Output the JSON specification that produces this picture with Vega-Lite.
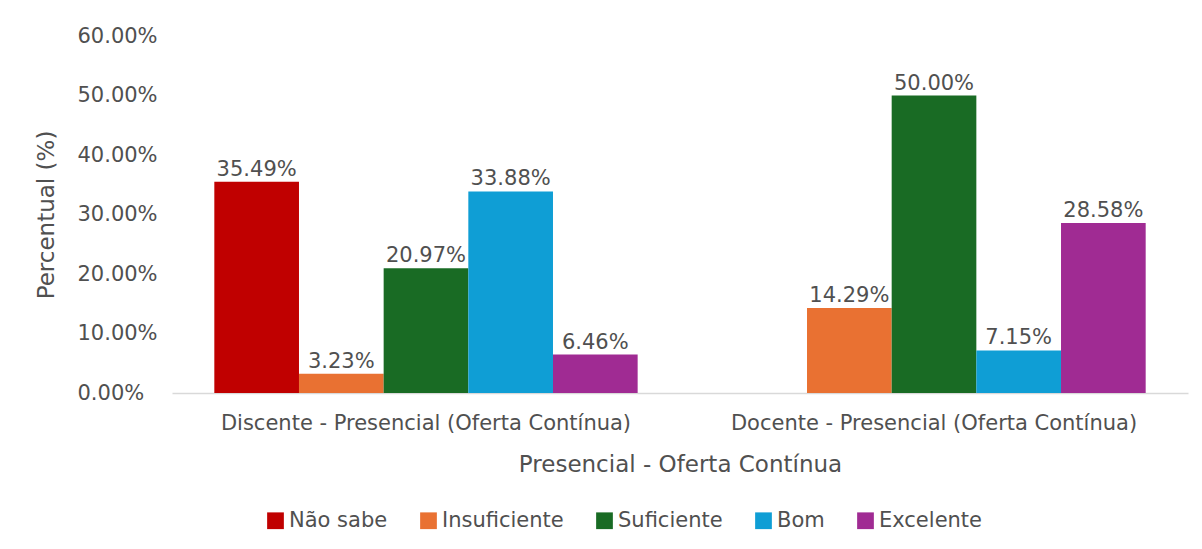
{
  "$schema": "https://vega.github.io/schema/vega-lite/v6.json",
  "autosize": "none",
  "width": 1016,
  "height": 357,
  "padding": {"left": 172, "top": 36, "right": 14, "bottom": 156},
  "background": "white",
  "config": {
    "font": "DejaVu Sans",
    "view": {"stroke": null},
    "text": {"font": "DejaVu Sans"}
  },
  "data": {
    "values": [
      {"grupo": "Discente - Presencial (Oferta Contínua)", "avaliacao": "Não sabe", "valor": 0.3549},
      {"grupo": "Discente - Presencial (Oferta Contínua)", "avaliacao": "Insuficiente", "valor": 0.0323},
      {"grupo": "Discente - Presencial (Oferta Contínua)", "avaliacao": "Suficiente", "valor": 0.2097},
      {"grupo": "Discente - Presencial (Oferta Contínua)", "avaliacao": "Bom", "valor": 0.3388},
      {"grupo": "Discente - Presencial (Oferta Contínua)", "avaliacao": "Excelente", "valor": 0.0646},
      {"grupo": "Docente - Presencial (Oferta Contínua)", "avaliacao": "Insuficiente", "valor": 0.1429},
      {"grupo": "Docente - Presencial (Oferta Contínua)", "avaliacao": "Suficiente", "valor": 0.5},
      {"grupo": "Docente - Presencial (Oferta Contínua)", "avaliacao": "Bom", "valor": 0.0715},
      {"grupo": "Docente - Presencial (Oferta Contínua)", "avaliacao": "Excelente", "valor": 0.2858}
    ]
  },
  "encoding": {
    "x": {
      "field": "grupo",
      "type": "nominal",
      "sort": null,
      "scale": {"paddingInner": 0.1667, "paddingOuter": 0.0833},
      "axis": {
        "title": "Presencial - Oferta Contínua",
        "labelAngle": 0,
        "labelFontSize": 21,
        "labelColor": "#505050",
        "labelPadding": 19,
        "labelLimit": 600,
        "ticks": false,
        "domainColor": "#d9d9d9",
        "domainWidth": 1.5,
        "titleFontSize": 23,
        "titleFontWeight": "normal",
        "titleColor": "#505050",
        "titlePadding": 20
      }
    },
    "xOffset": {
      "field": "avaliacao",
      "type": "nominal",
      "scale": {"domain": ["Não sabe", "Insuficiente", "Suficiente", "Bom", "Excelente"], "paddingInner": 0, "paddingOuter": 0}
    },
    "y": {
      "field": "valor",
      "type": "quantitative",
      "scale": {"domain": [0, 0.6]},
      "axis": {
        "title": "Percentual (%)",
        "values": [0, 0.1, 0.2, 0.3, 0.4, 0.5, 0.6],
        "format": ".2%",
        "grid": false,
        "domain": false,
        "ticks": false,
        "labelAlign": "left",
        "labelPadding": 95,
        "labelFontSize": 21,
        "labelColor": "#505050",
        "titleFontSize": 23,
        "titleFontWeight": "normal",
        "titleColor": "#505050",
        "titlePadding": 19
      }
    }
  },
  "layer": [
    {
      "mark": {"type": "bar"},
      "encoding": {
        "color": {
          "field": "avaliacao",
          "type": "nominal",
          "scale": {
            "domain": ["Não sabe", "Insuficiente", "Suficiente", "Bom", "Excelente"],
            "range": ["#C00000", "#E97132", "#196B24", "#0F9ED5", "#A02B93"]
          },
          "legend": {
            "title": null,
            "orient": "none",
            "direction": "horizontal",
            "legendX": 93,
            "legendY": 474,
            "symbolType": "square",
            "symbolSize": 280,
            "symbolStrokeWidth": 0,
            "labelFontSize": 21,
            "labelColor": "#505050",
            "labelOffset": 3,
            "columnPadding": 30
          }
        }
      }
    },
    {
      "mark": {"type": "text", "baseline": "bottom", "dy": -2, "fontSize": 21, "color": "#505050"},
      "encoding": {
        "text": {"field": "valor", "type": "quantitative", "format": ".2%"}
      }
    }
  ]
}
